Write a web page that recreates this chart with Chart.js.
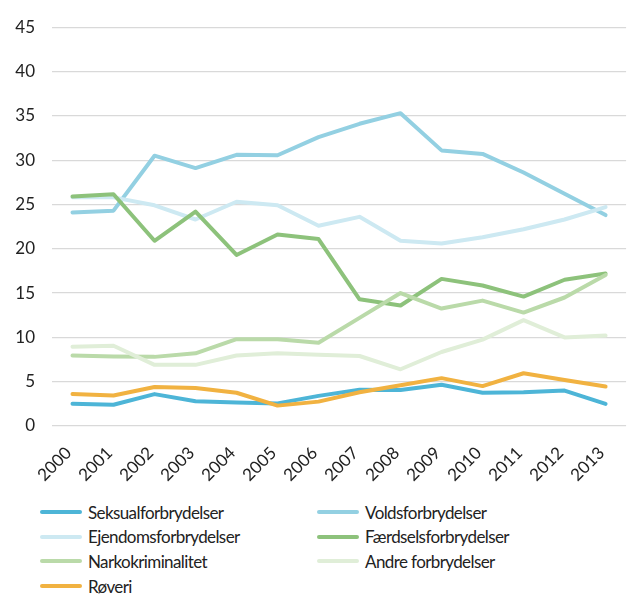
<!DOCTYPE html>
<html>
<head>
<meta charset="utf-8">
<script src="https://cdn.jsdelivr.net/npm/chart.js@4/dist/chart.umd.min.js"></script>
<style>
  body { margin: 0; background: #fff; font-family: Lato, "Open Sans", sans-serif; }
  #wrap { position: relative; width: 629px; height: 596px; }
  #legend { position: absolute; left: 0; top: 500px; width: 629px; }
  .item { position: absolute; height: 20px; display: flex; align-items: center; font-size: 17px; letter-spacing: -0.6px; color: #222; white-space: nowrap; }
  .item span.line { display: inline-block; width: 42px; height: 4px; border-radius: 2px; margin-right: 6px; }
</style>
</head>
<body>
<div id="wrap">
  <canvas id="chart" width="629" height="500"></canvas>
  <div id="legend"></div>
</div>
<script>
const years = ['2000', '2001', '2002', '2003', '2004', '2005', '2006', '2007', '2008', '2009', '2010', '2011', '2012', '2013'];

const seksual   = [2.5, 2.4, 3.6, 2.8, 2.65, 2.55, 3.4, 4.1, 4.05, 4.65, 3.75, 3.8, 4.0, 2.5];
const volds     = [24.1, 24.3, 30.5, 29.1, 30.6, 30.55, 32.6, 34.1, 35.3, 31.1, 30.7, 28.6, 26.2, 23.8];
const ejendoms  = [25.8, 25.8, 24.9, 23.3, 25.3, 24.9, 22.6, 23.6, 20.9, 20.6, 21.3, 22.2, 23.3, 24.7];
const faerdsels = [25.9, 26.15, 20.9, 24.2, 19.3, 21.6, 21.1, 14.3, 13.6, 16.6, 15.85, 14.6, 16.5, 17.2];
const narko     = [7.95, 7.85, 7.8, 8.2, 9.8, 9.8, 9.4, 12.2, 15.0, 13.25, 14.15, 12.8, 14.5, 17.05];
const andre     = [8.95, 9.05, 6.9, 6.9, 7.95, 8.2, 8.05, 7.9, 6.4, 8.35, 9.75, 11.95, 10.0, 10.2];
const roeveri   = [3.6, 3.45, 4.4, 4.3, 3.75, 2.3, 2.75, 3.8, 4.6, 5.4, 4.5, 5.95, 5.2, 4.45];

const seriesNames = ['Seksualforbrydelser', 'Voldsforbrydelser', 'Ejendomsforbrydelser', 'Færdselsforbrydelser', 'Narkokriminalitet', 'Andre forbrydelser', 'Røveri'];
const seriesData = [seksual, volds, ejendoms, faerdsels, narko, andre, roeveri];
const seriesColors = ['#4db5d7', '#93d0e2', '#cde9f2', '#8dc27b', '#badaa9', '#e0eed8', '#f1b241'];

const datasets = seriesNames.map((name, i) => ({
    label: name,
    data: seriesData[i],
    borderColor: seriesColors[i],
    backgroundColor: seriesColors[i],
    borderWidth: 4,
    pointRadius: 0,
    tension: 0,
    fill: false,
    borderCapStyle: 'round',
    borderJoinStyle: 'round',
    order: seriesNames.length - i
}));

const chart = new Chart(document.getElementById('chart'), {
    type: 'line',
    data: { labels: years, datasets: datasets },
    options: {
        responsive: false,
        animation: false,
        layout: { padding: { top: 18, right: 0, left: 0, bottom: 0 } },
        plugins: { legend: { display: false }, tooltip: { enabled: false } },
        scales: {
            x: {
                offset: true,
                grid: { display: false },
                border: { display: false },
                ticks: {
                    color: '#222',
                    font: { family: 'Lato', size: 17 },
                    minRotation: 45,
                    maxRotation: 45,
                    padding: 9,
                    labelOffset: -4
                },
                afterFit: scale => { scale.height = 74; }
            },
            y: {
                min: 0,
                max: 45,
                border: { display: false },
                grid: { color: '#d9d9d9', lineWidth: 1.2, drawTicks: false },
                ticks: {
                    stepSize: 5,
                    color: '#222',
                    font: { family: 'Lato', size: 17 },
                    padding: 17
                },
                afterFit: scale => { scale.width = 52; }
            }
        }
    }
});

// legend in two columns below the chart
const legend = document.getElementById('legend');
chart.data.datasets.forEach((ds, i) => {
    const div = document.createElement('div');
    div.className = 'item';
    div.style.left = (i % 2 === 0 ? 40 : 317) + 'px';
    div.style.top = (2 + Math.floor(i / 2) * 24.7) + 'px';
    div.innerHTML = `<span class="line" style="background:${ds.borderColor}"></span>${ds.label}`;
    legend.appendChild(div);
});
</script>
</body>
</html>
